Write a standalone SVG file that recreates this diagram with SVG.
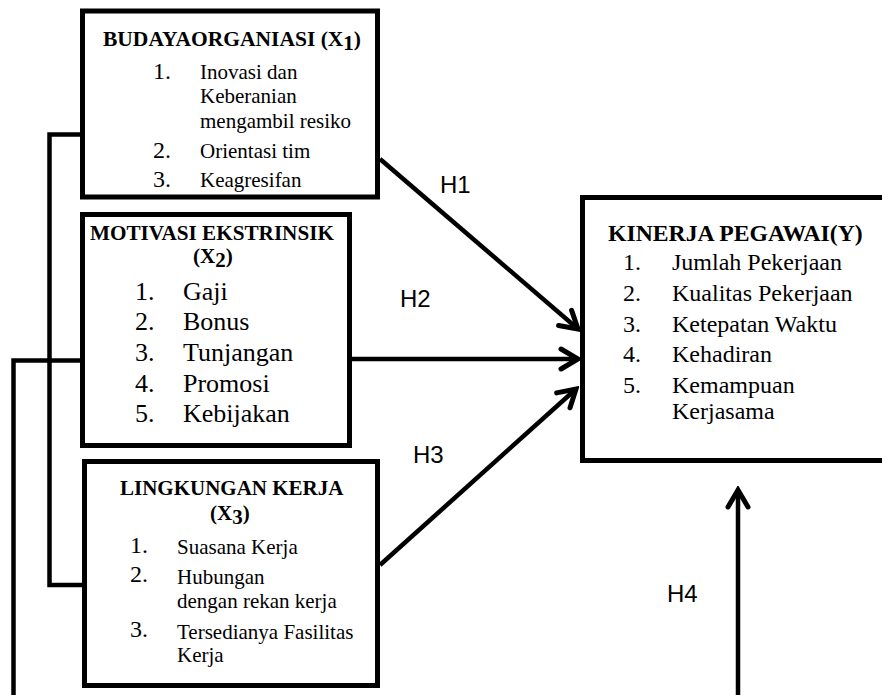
<svg xmlns="http://www.w3.org/2000/svg" width="882" height="695" viewBox="0 0 882 695">
<style>
.box{fill:#fff;stroke:#000;stroke-width:5}
.ttl{font-family:"Liberation Serif","Times New Roman",serif;font-weight:bold;fill:#000}
.it{font-family:"Liberation Serif","Times New Roman",serif;fill:#000}
.lbl{font-family:"Liberation Sans",Arial,sans-serif;font-size:24px;fill:#000}
.con{fill:none;stroke:#000;stroke-width:4.5;stroke-linejoin:miter}
.arr{fill:none;stroke:#000;stroke-width:4.5;marker-end:url(#ah)}
</style>
<defs>
<marker id="ah" markerUnits="userSpaceOnUse" viewBox="-22 -13 26 26" refX="0" refY="0" markerWidth="26" markerHeight="26" orient="auto">
<path d="M-17,-10 L0,0 L-17,10" fill="none" stroke="#000" stroke-width="5" stroke-linecap="round" stroke-linejoin="miter"/>
</marker>
</defs>
<rect width="882" height="695" fill="#fff"/>
<g id="connectors">
<path class="con" d="M82,134.5 H49.5 V585 H86"/>
<path class="con" d="M82,360.5 H13.5 V695"/>
<path class="arr" d="M380,159 L578,329"/>
<path class="arr" d="M352,359 L578,359"/>
<path class="arr" d="M380,565 L576,389"/>
<path class="arr" d="M738,695 V490"/>
<text class="lbl" x="440" y="193">H1</text>
<text class="lbl" x="400" y="307">H2</text>
<text class="lbl" x="413" y="463">H3</text>
<text class="lbl" x="667" y="602">H4</text>
</g>
<g id="budaya">
<rect class="box" x="82.5" y="11" width="295" height="186"/>
<text class="ttl" x="103" y="46" font-size="21.5">BUDAYAORGANIASI (X<tspan font-size="21" dy="4">1</tspan><tspan dy="-4">)</tspan></text>
<g class="it" font-size="21">
<text x="153" y="79" font-size="24">1.</text>
<text x="200" y="79">Inovasi dan</text>
<text x="200" y="103">Keberanian</text>
<text x="200" y="128">mengambil resiko</text>
<text x="153" y="158" font-size="24">2.</text>
<text x="200" y="158">Orientasi tim</text>
<text x="153" y="187" font-size="24">3.</text>
<text x="200" y="187">Keagresifan</text>
</g>
</g>
<g id="motivasi">
<rect class="box" x="82.5" y="214.5" width="267" height="231"/>
<text class="ttl" x="90" y="240" font-size="21.2">MOTIVASI EKSTRINSIK</text>
<text class="ttl" x="193" y="263" font-size="21.2">(X<tspan font-size="21" dy="4">2</tspan><tspan dy="-4">)</tspan></text>
<g class="it" font-size="26">
<text x="135" y="300">1.</text><text x="183" y="300">Gaji</text>
<text x="135" y="330">2.</text><text x="183" y="330">Bonus</text>
<text x="135" y="361">3.</text><text x="183" y="361">Tunjangan</text>
<text x="135" y="392">4.</text><text x="183" y="392">Promosi</text>
<text x="135" y="422">5.</text><text x="183" y="422">Kebijakan</text>
</g>
</g>
<g id="lingkungan">
<rect class="box" x="84.5" y="461.5" width="293" height="224"/>
<text class="ttl" x="120" y="495" font-size="21">LINGKUNGAN KERJA</text>
<text class="ttl" x="210" y="520" font-size="21">(X<tspan font-size="21" dy="4">3</tspan><tspan dy="-4">)</tspan></text>
<g class="it" font-size="21">
<text x="130" y="553" font-size="24">1.</text>
<text x="177" y="554">Suasana Kerja</text>
<text x="130" y="582" font-size="24">2.</text>
<text x="177" y="584">Hubungan</text>
<text x="177" y="608">dengan rekan kerja</text>
<text x="130" y="637" font-size="24">3.</text>
<text x="177" y="639">Tersedianya Fasilitas</text>
<text x="177" y="662">Kerja</text>
</g>
</g>
<g id="kinerja">
<rect class="box" x="582.5" y="197.5" width="310" height="263"/>
<text class="ttl" x="608" y="241" font-size="23.7">KINERJA PEGAWAI(Y)</text>
<g class="it" font-size="24">
<text x="623" y="270">1.</text><text x="672" y="270">Jumlah Pekerjaan</text>
<text x="623" y="301">2.</text><text x="672" y="301">Kualitas Pekerjaan</text>
<text x="623" y="332">3.</text><text x="672" y="332">Ketepatan Waktu</text>
<text x="623" y="362">4.</text><text x="672" y="362">Kehadiran</text>
<text x="623" y="393">5.</text><text x="672" y="393">Kemampuan</text>
<text x="672" y="419">Kerjasama</text>
</g>
</g>
</svg>
